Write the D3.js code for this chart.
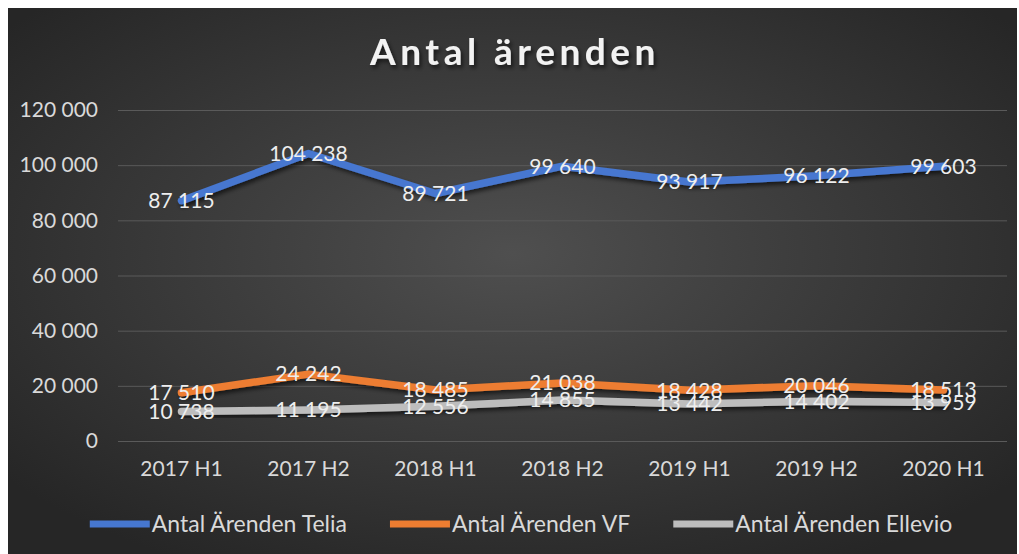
<!DOCTYPE html>
<html>
<head>
<meta charset="utf-8">
<script src="https://cdn.jsdelivr.net/npm/d3@7"></script>
<style>
  body { margin: 0; background: #fff; }
  svg { display: block; font-family: Lato, "Open Sans", sans-serif; }
</style>
</head>
<body>
<div class="container"></div>
<script>
// data
const periods = ["2017 H1", "2017 H2", "2018 H1", "2018 H2", "2019 H1", "2019 H2", "2020 H1"];
const telia = [87115, 104238, 89721, 99640, 93917, 96122, 99603];
const vf = [17510, 24242, 18485, 21038, 18428, 20046, 18513];
const ellevio = [10738, 11195, 12556, 14855, 13442, 14402, 13959];
const yTicks = [0, 20000, 40000, 60000, 80000, 100000, 120000];

const series = [
  {name: "Antal Ärenden Telia", values: telia, color: "#4677d0"},
  {name: "Antal Ärenden VF", values: vf, color: "#ed7d31"},
  {name: "Antal Ärenden Ellevio", values: ellevio, color: "#bdbdbd"}
];

const W = 1019, H = 554;
const margin = {top: 110, right: 12, bottom: 113, left: 118};

const svg = d3.select(".container").append("svg")
  .attr("width", W)
  .attr("height", H);

const defs = svg.append("defs");
const grad = defs.append("radialGradient")
  .attr("id", "bg")
  .attr("cx", "50%").attr("cy", "45%").attr("r", "65%");
grad.append("stop").attr("offset", "0%").attr("stop-color", "#4f4f4f");
grad.append("stop").attr("offset", "100%").attr("stop-color", "#262626");

const shadow = defs.append("filter").attr("id", "shadow")
  .attr("x", "-10%").attr("y", "-50%").attr("width", "120%").attr("height", "200%");
shadow.append("feDropShadow")
  .attr("dx", 2).attr("dy", 3).attr("stdDeviation", 2)
  .attr("flood-color", "#000").attr("flood-opacity", 0.6);

svg.append("rect")
  .attr("x", 8).attr("y", 8)
  .attr("width", W - 10).attr("height", H - 8)
  .attr("fill", "url(#bg)");

// title
svg.append("text")
  .attr("x", 515).attr("y", 65)
  .attr("text-anchor", "middle")
  .attr("font-size", "37px")
  .attr("font-weight", "bold")
  .attr("letter-spacing", "4.5px")
  .attr("fill", "#f2f2f2")
  .attr("filter", "url(#shadow)")
  .text("Antal ärenden");

const x = d3.scaleBand()
  .domain(periods)
  .range([margin.left, W - margin.right]);

const y = d3.scaleLinear()
  .domain([0, 120000])
  .range([H - margin.bottom, margin.top]);

const fmt = d => d3.format(",")(d).replace(/,/g, " ");

// gridlines + y labels
const yAxis = d3.axisLeft(y)
  .tickValues(yTicks)
  .tickSize(-(W - margin.left - margin.right))
  .tickPadding(20)
  .tickFormat(fmt);

const gy = svg.append("g")
  .attr("transform", `translate(${margin.left},0)`)
  .call(yAxis);
gy.select(".domain").remove();
gy.selectAll(".tick line").attr("stroke", "#5a5a5a").attr("stroke-width", 1);
gy.selectAll(".tick text")
  .attr("fill", "#d9d9d9")
  .attr("font-size", "21px")
  .attr("font-family", "Lato, 'Open Sans', sans-serif");

// x labels
const xAxis = d3.axisBottom(x).tickSize(0).tickPadding(20);
const gx = svg.append("g")
  .attr("transform", `translate(0,${H - margin.bottom})`)
  .call(xAxis);
gx.select(".domain").remove();
gx.selectAll(".tick text")
  .attr("fill", "#d9d9d9")
  .attr("font-size", "21px")
  .attr("font-family", "Lato, 'Open Sans', sans-serif");

const cx = d => x(d) + x.bandwidth() / 2;

const line = d3.line()
  .x((d, i) => cx(periods[i]))
  .y(d => y(d));

svg.append("g").selectAll("path")
  .data(series)
  .enter()
  .append("path")
  .attr("d", d => line(d.values))
  .attr("fill", "none")
  .attr("stroke", d => d.color)
  .attr("stroke-width", 7.5)
  .attr("stroke-linejoin", "round")
  .attr("stroke-linecap", "round")
  .attr("filter", "url(#shadow)");

// data labels
series.forEach(s => {
  svg.append("g").selectAll("text")
    .data(s.values)
    .enter()
    .append("text")
    .attr("x", (d, i) => cx(periods[i]))
    .attr("y", d => y(d))
    .attr("dy", "0.35em")
    .attr("text-anchor", "middle")
    .attr("font-size", "21px")
    .attr("fill", "#eeeeee")
    .text(fmt);
});

// legend
const legend = svg.append("g");
let lx = 0;
series.forEach((s, i) => {
  const item = legend.append("g").attr("transform", `translate(${lx},0)`);
  item.append("line")
    .attr("x1", 0).attr("x2", 60)
    .attr("y1", 0).attr("y2", 0)
    .attr("stroke", s.color)
    .attr("stroke-width", 7);
  const t = item.append("text")
    .attr("x", 62).attr("y", 0)
    .attr("dy", "0.35em")
    .attr("font-size", "23px")
    .attr("fill", "#d9d9d9")
    .text(s.name);
  lx += 62 + t.node().getComputedTextLength() + 43;
});
const legendW = lx - 43;
legend.attr("transform", `translate(${521 - legendW / 2},524)`);
</script>
</body>
</html>
